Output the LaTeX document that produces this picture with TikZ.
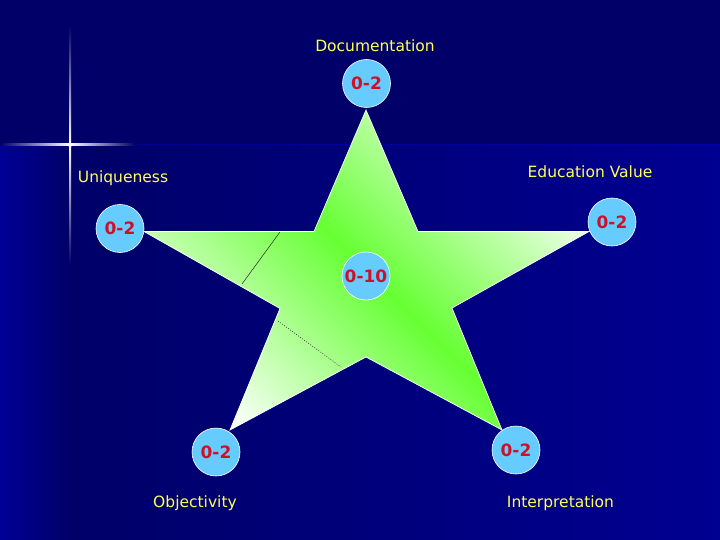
\documentclass[tikz,border=0pt]{standalone}
\usepackage{fontspec}
\setmainfont{DejaVu Sans}
\usetikzlibrary{positioning}
\definecolor{bgdark}{RGB}{0,0,104}
\definecolor{bglight}{RGB}{0,0,145}
\definecolor{stripblue}{RGB}{0,0,150}
\definecolor{stargreen}{RGB}{102,255,51}
\definecolor{dotblue}{RGB}{102,204,255}
\definecolor{scorered}{RGB}{204,17,40}
\definecolor{labelyellow}{RGB}{255,255,90}
\pgfdeclarehorizontalshading{starglow}{100bp}{color(0bp)=(white); color(28bp)=(white!95!stargreen); color(50bp)=(stargreen); color(72bp)=(white!95!stargreen); color(100bp)=(white)}

\begin{document}
\begin{tikzpicture}[x=1pt, y=-1pt,
    score/.style={circle, draw=white, line width=0.6pt, fill=dotblue, minimum size=48pt, inner sep=0pt,
                  text=scorered, font=\bfseries\fontsize{17}{17}\selectfont},
    caption/.style={text=labelyellow, font=\fontsize{15.5}{16}\selectfont, inner sep=0pt, anchor=base}]
    \useasboundingbox (0,0) rectangle (720,540);
    \fill[bgdark] (0,0) rectangle (720,540);
    \shade[left color=bgdark, right color=bglight] (70,145) rectangle (720,540);
    \shade[left color=stripblue, right color=bgdark] (0,145) rectangle (70,540);
    \fill[blue!60!bgdark, opacity=0.5] (0,144.5) rectangle (720,145.5);
    \shade[left color=bgdark, right color=white] (0,144) rectangle (70,146);
    \shade[left color=white, right color=bgdark] (70,144) rectangle (135,146);
    \shade[top color=bgdark, bottom color=white] (69,25) rectangle (71,145);
    \shade[top color=white, bottom color=bgdark] (69,145) rectangle (71,265);
    \fill[white] (70,145) circle (2);
    \coordinate (top) at (366,110);
    \coordinate (tr) at (418,231.5);
    \coordinate (right) at (589,231.5);
    \coordinate (ri) at (452,308);
    \coordinate (br) at (502,430);
    \coordinate (bi) at (366,357);
    \coordinate (bl) at (230,430);
    \coordinate (li) at (280,308.5);
    \coordinate (left) at (144,231.5);
    \coordinate (tl) at (314,231.5);
    \begin{scope}
        \clip (top) -- (tr) -- (right) -- (ri) -- (br) -- (bi) -- (bl) -- (li) -- (left) -- (tl) -- cycle;
        \shade[shading=starglow, shading angle=45] (141,45) rectangle (591,495);
    \end{scope}
    \draw[white, line width=0.7pt, line join=miter]
        (top) -- (tr) -- (right) -- (ri) -- (br) -- (bi) -- (bl) -- (li) -- (left) -- (tl) -- cycle;
    \draw[black!85, line width=0.5pt] (280,232) -- (242,284);
    \draw[black!85, line width=0.5pt, dash pattern=on 1pt off 1.5pt] (278,321) -- (341,367);
    \node[score] (doc) at (366.5,83.5) {0-2};
    \node[score] (edu) at (612,222) {0-2};
    \node[score] (uniq) at (120,228.5) {0-2};
    \node[score] (obj) at (216,452) {0-2};
    \node[score] (interp) at (516,450) {0-2};
    \node[score] (total) at (366,276) {0-10};
    \node[caption] (doclabel) at (375,51.7) {Documentation};
    \node[caption] (edulabel) at (590,177.3) {Education Value};
    \node[caption] (uniqlabel) at (123,182.7) {Uniqueness};
    \node[caption] (objlabel) at (195,507) {Objectivity};
    \node[caption] (interplabel) at (560.5,507.3) {Interpretation};
\end{tikzpicture}
\end{document}
